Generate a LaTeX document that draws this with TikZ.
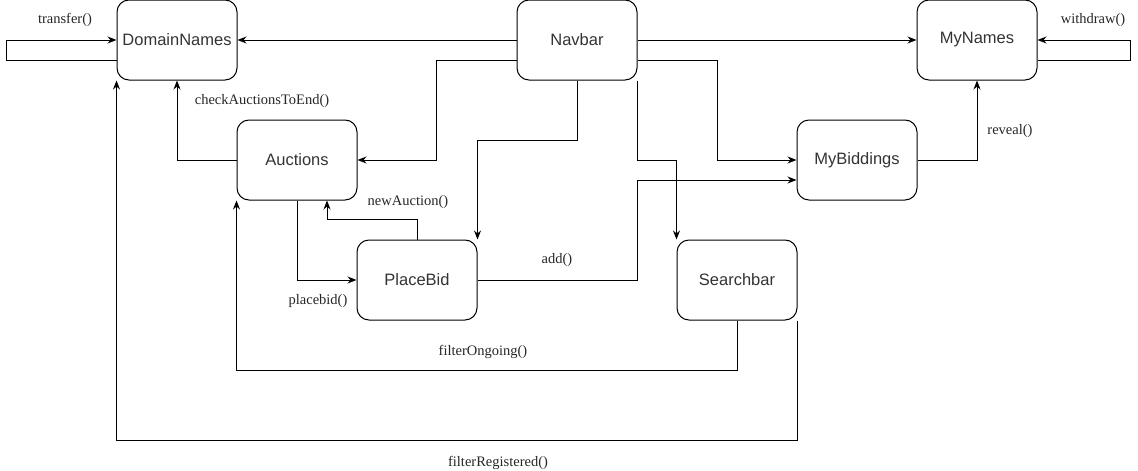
\documentclass[tikz,border=0pt]{standalone}
\usepackage{fontspec}
\setmainfont{Liberation Serif}
\newfontfamily\boxfont{Liberation Sans}
\usetikzlibrary{arrows.meta}
\begin{document}
\begin{tikzpicture}[x=1pt,y=-1pt,
  box/.style={draw,line width=1pt,rounded corners=12pt,minimum width=120pt,minimum height=80pt,inner sep=0pt,font=\boxfont\fontsize{16.5}{18}\selectfont,text=black!80},
  arr/.style={draw,line width=1pt,-{Stealth[length=9pt,width=7pt]}},
  lbl/.style={font=\fontsize{14.5}{16}\selectfont,text=black!85,inner sep=0pt}]
\useasboundingbox (0,0) rectangle (1138,471);
\node[box] (dn) at (177,40) {DomainNames};
\node[box] (nav) at (577,40) {Navbar};
\node[box] (mn) at (977,40) {MyNames};
\node[box] (auc) at (297,160) {Auctions};
\node[box] (mb) at (857,160) {MyBiddings};
\node[box] (pb) at (417,280) {PlaceBid};
\node[box] (sb) at (737,280) {Searchbar};
% connectors
\draw[arr] ([yshift=-20pt]dn.west) -- ++(-110,0) |- (dn.west);
\draw[arr] (nav.west) -- (dn.east);
\draw[arr] (nav.east) -- (mn.west);
\draw[arr] ([yshift=-20pt]mn.east) -- ++(93,0) |- (mn.east);
\draw[arr] ([yshift=-20pt]nav.west) -- ++(-80,0) |- (auc.east);
\draw[arr] ([yshift=-20pt]nav.east) -- ++(80,0) |- (mb.west);
\draw[arr] (nav.south) -- ++(0,60) -| (pb.north east);
\draw[arr] (nav.south east) -- ++(0,80) -| (sb.north west);
\draw[arr] (pb.east) -- ++(160,0) |- ([yshift=-20pt]mb.west);
\draw[arr] (mb.east) -| (mn.south);
\draw[arr] (auc.west) -| (dn.south);
\draw[arr] (auc.south) |- (pb.west);
\draw[arr] (pb.north) -- ++(0,-20) -| ([xshift=30pt]auc.south);
\draw[arr] (sb.south) -- ++(0,50) -| (auc.south west);
\draw[arr] (sb.south east) -- ++(0,120) -| (dn.south west);
% labels
\node[lbl] (l1) at (65,20) {transfer()};
\node[lbl] (l2) at (1093,20) {withdraw()};
\node[lbl] (l3) at (262,101) {checkAuctionsToEnd()};
\node[lbl] (l4) at (1010,131) {reveal()};
\node[lbl] (l5) at (408,202) {newAuction()};
\node[lbl] (l6) at (557,260) {add()};
\node[lbl] (l7) at (318,301) {placebid()};
\node[lbl] (l8) at (483,352) {filterOngoing()};
\node[lbl] (l9) at (498,463) {filterRegistered()};
\end{tikzpicture}
\end{document}
